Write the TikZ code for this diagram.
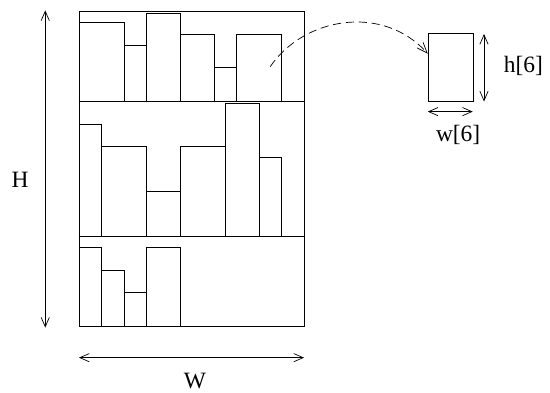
\documentclass[tikz,border=0pt]{standalone}
\usepackage{fontspec}
\setmainfont{Liberation Serif}
\usetikzlibrary{arrows.meta,calc,positioning}

\begin{document}
\begin{tikzpicture}[x=0.3375cm,y=0.3375cm,
    bin/.style={draw,line width=0.7pt},
    dim/.style={{Straight Barb[length=8pt,width=7pt]}-{Straight Barb[length=8pt,width=7pt]},
                line width=0.6pt},
    lbl/.style={font=\fontsize{20}{24}\selectfont,inner sep=0pt}
  ]
  \useasboundingbox (-7.022,-5.911) rectangle (41.867,29.022);

  % the strip and its three shelves
  \draw[bin] (0,0) rectangle (20,28);
  \draw[bin] (0,8) -- (20,8);
  \draw[bin] (0,20) -- (20,20);

  % items: x / width / shelf base / height
  \foreach \x/\w/\b/\h in {0/4/20/7, 4/2/20/5, 6/3/20/7.8, 9/3/20/6, 12/2/20/3, 14/4/20/6,
                           0/2/8/10, 2/4/8/8, 6/3/8/4, 9/4/8/8, 13/3/8/11.8, 16/2/8/7,
                           0/2/0/7, 2/2/0/5, 4/2/0/3, 6/3/0/7}
    \draw[bin] (\x,\b) rectangle ++(\w,\h);
  \coordinate (src) at (17,23.1);

  % item 6 on its own
  \node[bin,anchor=south west,inner sep=0pt,
        minimum width=1.35cm,minimum height=2.025cm] (pick) at (31,20) {};
  \draw[dashed,dash pattern=on 7pt off 4pt,line width=0.6pt,-{Straight Barb[length=9pt,width=7pt]}]
    (src) .. controls (20,27.5) and (27,28.7) .. ($(pick.north west)!0.3!(pick.south west)$);

  % dimensions of item 6
  \coordinate (wl) at (31,19.1); \coordinate (wr) at (35,19.1);
  \coordinate (hb) at (36,20);   \coordinate (ht) at (36,26);
  \draw[dim] (wl) -- (wr);
  \draw[dim] (hb) -- (ht);
  \node[lbl] (hlab) at (39.5,23.2) {h[6]};
  \node[lbl] (wlab) at (33.7,17.0) {w[6]};

  % dimensions of the strip
  \coordinate (Hb) at (-3,-0.1); \coordinate (Ht) at (-3,28.1);
  \coordinate (Wl) at (0,-2.77); \coordinate (Wr) at (20,-2.77);
  \draw[dim] (Hb) -- (Ht);
  \draw[dim] (Wl) -- (Wr);
  \node[lbl] (Hlab) at (-5.24,13.07) {H};
  \node[lbl] (Wlab) at (10.3,-4.85) {W};
\end{tikzpicture}
\end{document}
